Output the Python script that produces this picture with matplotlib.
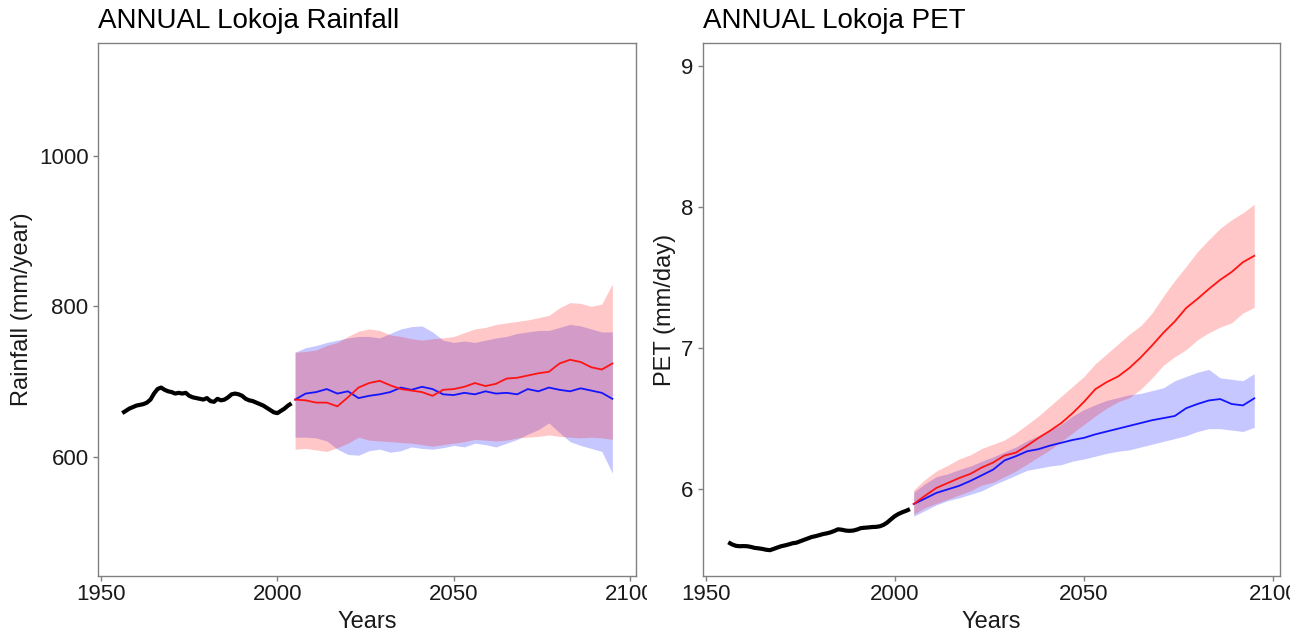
import numpy as np
import matplotlib
matplotlib.use("Agg")
import matplotlib.pyplot as plt
from matplotlib.transforms import Bbox, TransformedBbox

plt.rcParams['font.family'] = ['Liberation Sans', 'DejaVu Sans']

# ---------------- data ----------------
hist_years = list(range(1956, 2005))
proj_years = list(range(2005, 2096, 3))

rain_hist = [658, 661, 664, 666, 668, 669, 670, 672, 676, 684,
             690, 692, 689, 687, 686, 684, 685, 684, 685, 681,
             679, 678, 677, 676, 678, 674, 673, 677, 675, 676,
             679, 683, 684, 683, 681, 677, 675, 674, 672, 670,
             668, 665, 662, 659, 658, 661, 664, 668, 671]

rain_red_mean = [676, 675, 672, 672, 667, 679, 692, 698, 701, 695, 690,
                 688, 686, 681, 689, 690, 693, 698, 694, 697, 704,
                 705, 708, 711, 713, 724, 729, 726, 719, 716, 724]
rain_blue_mean = [676, 684, 686, 690, 684, 687, 678, 681, 683, 686, 692,
                  689, 693, 690, 683, 682, 685, 683, 687, 684, 685,
                  683, 690, 687, 692, 689, 687, 691, 688, 685, 677]
rain_red_upper = [739, 740, 742, 748, 752, 760, 767, 770, 768, 762, 760,
                  757, 755, 757, 758, 760, 765, 770, 772, 776, 778,
                  780, 782, 785, 788, 798, 805, 804, 800, 803, 830]
rain_red_lower = [610, 611, 609, 607, 612, 618, 626, 622, 621, 620, 619,
                  618, 616, 614, 616, 618, 620, 623, 622, 621, 622,
                  625, 626, 627, 629, 627, 626, 625, 626, 625, 623]
rain_blue_upper = [739, 745, 748, 752, 755, 758, 760, 760, 758, 764, 770,
                   773, 774, 766, 755, 752, 754, 752, 755, 758, 760,
                   764, 766, 768, 768, 772, 776, 774, 770, 766, 766]
rain_blue_lower = [626, 626, 625, 621, 610, 603, 602, 608, 610, 606, 608,
                   613, 611, 610, 612, 615, 613, 618, 616, 613, 618,
                   623, 630, 636, 645, 632, 620, 615, 611, 607, 578]

pet_hist = [5.625, 5.610, 5.600, 5.597, 5.598, 5.597, 5.592, 5.585, 5.582, 5.578,
            5.572, 5.569, 5.578, 5.588, 5.597, 5.603, 5.610, 5.618, 5.622, 5.632,
            5.642, 5.652, 5.662, 5.668, 5.675, 5.683, 5.688, 5.695, 5.705, 5.717,
            5.714, 5.708, 5.706, 5.708, 5.715, 5.725, 5.728, 5.730, 5.733, 5.734,
            5.738, 5.748, 5.765, 5.788, 5.810, 5.826, 5.838, 5.848, 5.860]

pet_red_mean = [5.896, 5.955, 6.01, 6.045, 6.08, 6.11, 6.155, 6.19, 6.24, 6.26, 6.31,
                6.365, 6.415, 6.47, 6.54, 6.62, 6.71, 6.76, 6.80, 6.86, 6.935,
                7.02, 7.11, 7.19, 7.285, 7.35, 7.42, 7.485, 7.54, 7.61, 7.655]
pet_blue_mean = [5.896, 5.935, 5.975, 6.0, 6.025, 6.06, 6.10, 6.14, 6.205, 6.235, 6.27,
                 6.285, 6.31, 6.33, 6.35, 6.365, 6.39, 6.41, 6.43, 6.45, 6.47,
                 6.49, 6.505, 6.52, 6.575, 6.605, 6.63, 6.64, 6.605, 6.595, 6.645]
pet_red_upper = [5.996, 6.07, 6.13, 6.17, 6.215, 6.245, 6.29, 6.32, 6.35, 6.40, 6.46,
                 6.52, 6.59, 6.66, 6.73, 6.80, 6.89, 6.96, 7.03, 7.10, 7.16,
                 7.25, 7.37, 7.48, 7.58, 7.685, 7.77, 7.85, 7.91, 7.96, 8.02]
pet_red_lower = [5.824, 5.87, 5.90, 5.93, 5.96, 5.99, 6.03, 6.05, 6.09, 6.13, 6.18,
                 6.23, 6.28, 6.34, 6.40, 6.46, 6.52, 6.575, 6.62, 6.65, 6.71,
                 6.79, 6.88, 6.94, 6.99, 7.06, 7.11, 7.15, 7.18, 7.25, 7.29]
pet_blue_upper = [5.98, 6.04, 6.09, 6.11, 6.14, 6.165, 6.20, 6.23, 6.265, 6.30, 6.345,
                  6.38, 6.42, 6.46, 6.52, 6.565, 6.60, 6.63, 6.65, 6.67, 6.68,
                  6.70, 6.72, 6.77, 6.80, 6.83, 6.85, 6.79, 6.78, 6.77, 6.82]
pet_blue_lower = [5.81, 5.85, 5.89, 5.92, 5.94, 5.965, 5.99, 6.03, 6.065, 6.10, 6.135,
                  6.15, 6.165, 6.175, 6.20, 6.215, 6.235, 6.255, 6.27, 6.28, 6.30,
                  6.32, 6.34, 6.36, 6.38, 6.41, 6.43, 6.43, 6.42, 6.41, 6.44]

x_ticks = [1950, 2000, 2050, 2100]
rain_yticks = [600, 800, 1000]
pet_yticks = [6, 7, 8, 9]

# ---------------- figure ----------------
W, H = 1305, 635
fig = plt.figure(figsize=(W / 100, H / 100), dpi=100)
fig.patch.set_facecolor('white')

def px_axes(x0, x1, ytop, ybot):
    return fig.add_axes([x0 / W, 1 - ybot / H, (x1 - x0) / W, (ybot - ytop) / H])

ax1 = px_axes(98.3, 636, 43.3, 576)
ax2 = px_axes(703.3, 1280, 43.3, 576)

RED = '#FF1414'
BLUE = '#1414FF'
ALPHA = 0.22
GRAY = '#808080'
TICK_FS = 16
LABEL_FS = 17
TITLE_FS = 20

def draw(ax, hist, bu, bl, ru, rl, bm, rm):
    ax.fill_between(proj_years, bl, bu, color='#0000FF', alpha=ALPHA, linewidth=0)
    ax.fill_between(proj_years, rl, ru, color='#FF0000', alpha=ALPHA, linewidth=0)
    ax.plot(hist_years, hist, color='black', lw=3.0, solid_capstyle='butt')
    ax.plot(proj_years, bm, color=BLUE, lw=1.3)
    ax.plot(proj_years, rm, color=RED, lw=1.3)

draw(ax1, rain_hist, rain_blue_upper, rain_blue_lower, rain_red_upper,
     rain_red_lower, rain_blue_mean, rain_red_mean)
draw(ax2, pet_hist, pet_blue_upper, pet_blue_lower, pet_red_upper,
     pet_red_lower, pet_blue_mean, pet_red_mean)

ax1.set_xlim(1949.2, 2101.7)
ax1.set_ylim(441.3, 1150)
ax2.set_xlim(1949.4, 2101.8)
ax2.set_ylim(5.386, 9.161)

ax1.set_yticks(rain_yticks)
ax2.set_yticks(pet_yticks)

for ax, clipx in ((ax1, 647), (ax2, 1290)):
    ax.set_xticks(x_ticks)
    ax.set_xticklabels([str(t) for t in x_ticks])
    for s in ax.spines.values():
        s.set_color(GRAY)
        s.set_linewidth(1.0)
    ax.tick_params(axis='both', colors=GRAY, length=3.5, width=1.0,
                   labelsize=TICK_FS, labelcolor='#1a1a1a')
    ax.tick_params(axis='x', pad=2.5)
    ax.tick_params(axis='y', pad=3.5)
    ax.set_xlabel('Years', fontsize=LABEL_FS, color='#1a1a1a')
    ax.xaxis.label.set_va('baseline')
    ax.xaxis.set_label_coords(0.5, (576 - 628) / (576 - 43.3))
    clip = TransformedBbox(Bbox.from_extents(0, 0, clipx / W, 1), fig.transFigure)
    for t in ax.xaxis.get_major_ticks():
        t.label1.set_clip_on(True)
        t.label1.set_clip_box(clip)

ax1.set_ylabel('Rainfall (mm/year)', fontsize=LABEL_FS, color='#1a1a1a')
ax1.yaxis.label.set_va('center')
ax1.yaxis.set_label_coords((22 - 98.3) / (636 - 98.3), 0.5)
ax2.set_ylabel('PET (mm/day)', fontsize=LABEL_FS, color='#1a1a1a')
ax2.yaxis.label.set_va('center')
ax2.yaxis.set_label_coords((665 - 703.3) / (1280 - 703.3), 0.5)

fig.text(98.3 / W, 1 - 28 / H, 'ANNUAL Lokoja Rainfall', fontsize=TITLE_FS,
         color='black', ha='left', va='baseline')
fig.text(703.3 / W, 1 - 28 / H, 'ANNUAL Lokoja PET', fontsize=TITLE_FS,
         color='black', ha='left', va='baseline')

fig.savefig('out.png', dpi=100, facecolor='white')
